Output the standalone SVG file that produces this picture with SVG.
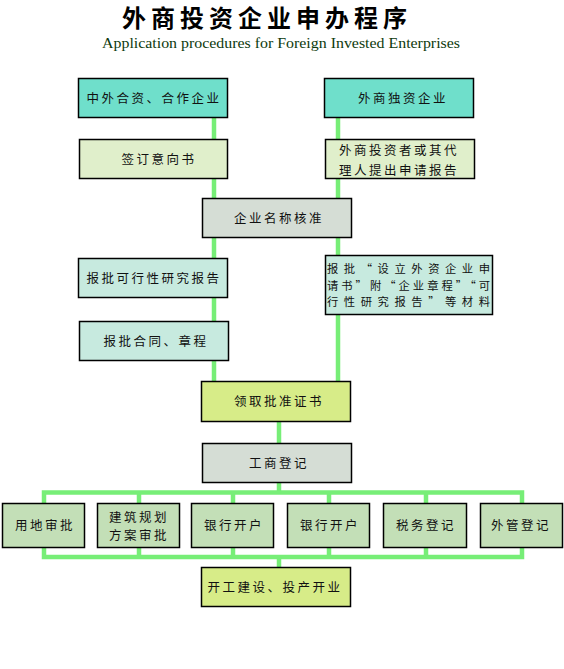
<svg xmlns="http://www.w3.org/2000/svg" width="564" height="669" viewBox="0 0 564 669">
<style>
.b{stroke:#000;stroke-width:1.5}
.t{font-family:"Noto Sans CJK SC","Noto Sans",sans-serif;font-size:12.5px;fill:#111;letter-spacing:2.5px}
.c{text-anchor:middle}
.j{font-size:11.3px;letter-spacing:0}
.ln{stroke:#77EE77;stroke-width:4.5;fill:none}
.teal{fill:#6FDFCB}.pale{fill:#E0EFCB}.grey{fill:#D5DDD5}.mint{fill:#C7EADF}.lime{fill:#D7EC88}.sage{fill:#C3DFB7}
</style>
<rect width="564" height="669" fill="#fff"/>
<text x="267" y="27" text-anchor="middle" font-family="'Noto Sans CJK SC',sans-serif" font-weight="bold" font-size="24" letter-spacing="5" fill="#000">外商投资企业申办程序</text>
<text x="102" y="48" textLength="358" lengthAdjust="spacingAndGlyphs" font-family="'Liberation Serif',serif" font-size="14.5" fill="#0d3a0d">Application procedures for Foreign Invested Enterprises</text>
<g id="connectors">
<line class="ln" x1="214" y1="117" x2="214" y2="382"/>
<line class="ln" x1="338" y1="117" x2="338" y2="382"/>
<line class="ln" x1="279" y1="421" x2="279" y2="443"/>
<line class="ln" x1="279" y1="482" x2="279" y2="492"/>
<path class="ln" d="M44 503 V492.5 H522 V503 M139 492.5 V503 M233 492.5 V503 M329 492.5 V503 M426 492.5 V503"/>
<path class="ln" d="M44 547 V557 H522 V547 M139 557 V547 M233 557 V547 M329 557 V547 M426 557 V547"/>
<line class="ln" x1="279" y1="557" x2="279" y2="567"/>
</g>
<g id="n1"><rect class="b teal" x="78.5" y="78.5" width="149" height="39"/><text class="t c" x="154" y="103">中外合资、合作企业</text></g>
<g id="n2"><rect class="b teal" x="324.5" y="78.5" width="149" height="39"/><text class="t c" x="403" y="103">外商独资企业</text></g>
<g id="n3"><rect class="b pale" x="79.5" y="139.5" width="148" height="39"/><text class="t c" x="159" y="164">签订意向书</text></g>
<g id="n4"><rect class="b pale" x="325.5" y="139.5" width="149" height="39"/><text class="t" x="339" y="155">外商投资者或其代</text><text class="t" x="339" y="175">理人提出申请报告</text></g>
<g id="n5"><rect class="b grey" x="202.5" y="198.5" width="149" height="39"/><text class="t c" x="279" y="223">企业名称核准</text></g>
<g id="n6"><rect class="b mint" x="78.5" y="258.5" width="149" height="39"/><text class="t c" x="154" y="283">报批可行性研究报告</text></g>
<g id="n7"><rect class="b mint" x="325.5" y="255.5" width="167" height="59"/>
<text class="t j" x="327" y="273" textLength="163" lengthAdjust="spacing">报批“设立外资企业申</text>
<text class="t j" x="327" y="289.5" textLength="163" lengthAdjust="spacing">请书”附“企业章程”“可</text>
<text class="t j" x="327" y="306" textLength="163" lengthAdjust="spacing">行性研究报告”等材料</text></g>
<g id="n8"><rect class="b mint" x="79.5" y="321.5" width="149" height="39"/><text class="t c" x="156" y="346">报批合同、章程</text></g>
<g id="n9"><rect class="b lime" x="201.5" y="381.5" width="149" height="40"/><text class="t c" x="279" y="406">领取批准证书</text></g>
<g id="n10"><rect class="b grey" x="202.5" y="443.5" width="149" height="39"/><text class="t c" x="279" y="468">工商登记</text></g>
<g id="n11"><rect class="b sage" x="2.5" y="503.5" width="82" height="44"/><text class="t c" x="45" y="530">用地审批</text></g>
<g id="n12"><rect class="b sage" x="97.5" y="503.5" width="82" height="44"/><text class="t c" x="139" y="522">建筑规划</text><text class="t c" x="139" y="540">方案审批</text></g>
<g id="n13"><rect class="b sage" x="191.5" y="503.5" width="82" height="44"/><text class="t c" x="234" y="530">银行开户</text></g>
<g id="n14"><rect class="b sage" x="287.5" y="503.5" width="82" height="44"/><text class="t c" x="330" y="530">银行开户</text></g>
<g id="n15"><rect class="b sage" x="383.5" y="503.5" width="83" height="44"/><text class="t c" x="426" y="530">税务登记</text></g>
<g id="n16"><rect class="b sage" x="480.5" y="503.5" width="82" height="44"/><text class="t c" x="521" y="530">外管登记</text></g>
<g id="n17"><rect class="b lime" x="201.5" y="567.5" width="149" height="39"/><text class="t c" x="275" y="592">开工建设、投产开业</text></g>
</svg>
